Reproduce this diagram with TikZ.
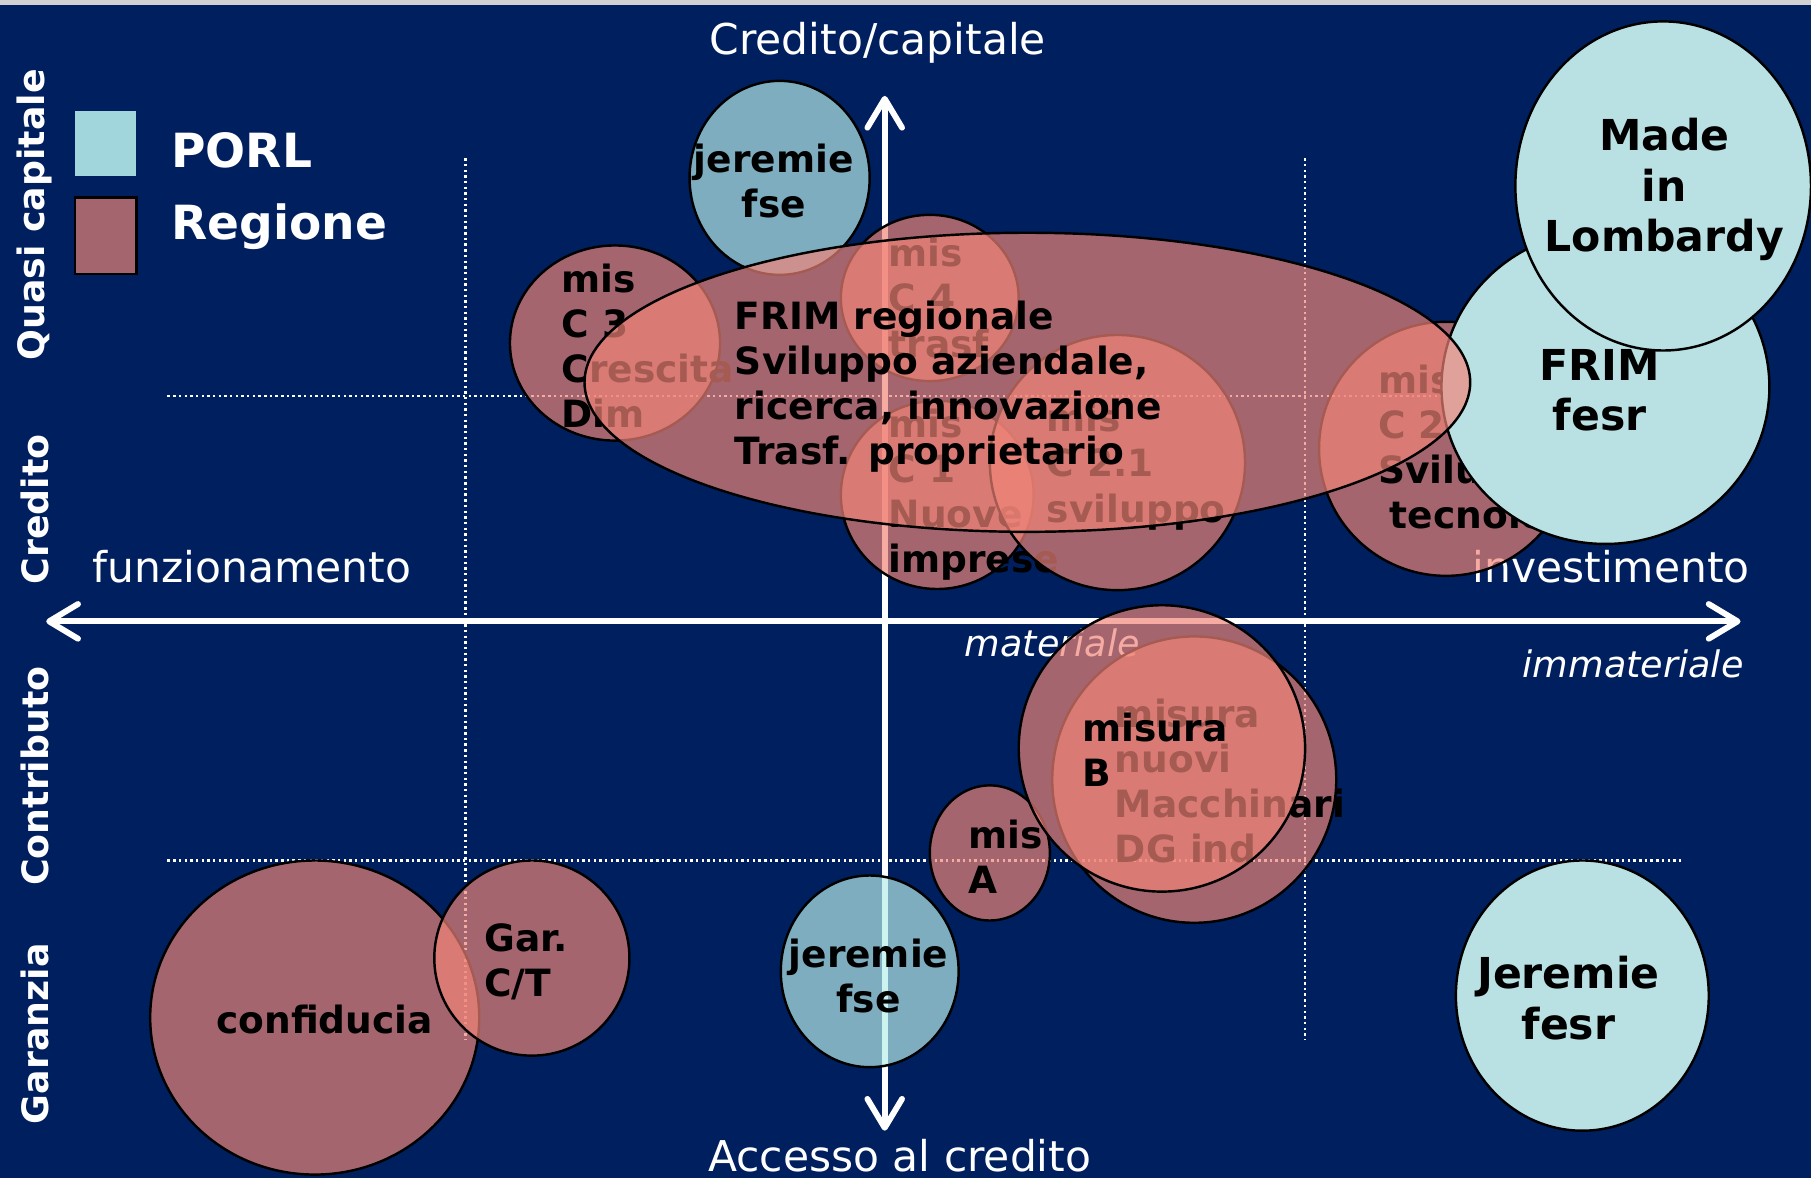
\documentclass[tikz,border=0pt]{standalone}
\usepackage{fontspec}
\setmainfont{DejaVu Sans}
\usetikzlibrary{shapes.geometric,arrows.meta}
\definecolor{navy}{RGB}{0,31,94}
\definecolor{salmon}{RGB}{241,133,120}
\definecolor{porlfill}{RGB}{185,224,227}
\definecolor{porlsoft}{RGB}{183,238,236}
\definecolor{porlkey}{RGB}{160,214,220}
\begin{document}
\begin{tikzpicture}[x=.02cm,y=-.02cm,
    reg/.style={ellipse, draw, line width=1.2pt, fill=salmon, fill opacity=.685, inner sep=0},
    porl/.style={ellipse, draw, line width=1.2pt, fill=porlfill, inner sep=0},
    porlt/.style={porl, fill=porlsoft, fill opacity=.685},
    lab/.style={font=\fontsize{18.5}{22.2}\selectfont\bfseries, align=left, anchor=west, inner sep=0},
    labc/.style={lab, align=center, anchor=center},
    big/.style={labc, font=\fontsize{21}{25}\selectfont\bfseries},
    axlab/.style={text=white, font=\fontsize{20.9}{25}\selectfont},
    axit/.style={text=white, font=\fontsize{18}{22}\selectfont\itshape},
    side/.style={text=white, rotate=90, font=\fontsize{17.9}{21}\selectfont\bfseries},
    keytxt/.style={text=white, anchor=west, inner sep=0, font=\fontsize{23.2}{28}\selectfont\bfseries},
    grid/.style={white, line width=1.2pt, dash pattern=on 1.2pt off 1.6pt},
    axis/.style={white, line width=2.9pt, >={Straight Barb[length=.5cm,width=.6cm,round]}, <->}]
    \fill[navy] (0,0) rectangle (1568,1020);
    \useasboundingbox (0,0) rectangle (1568,1020);
    \fill[gray!35] (0,0) rectangle (1568,4);
    % griglia
    \draw[grid] (145,343) -- (1455,343); \draw[grid] (145,745) -- (1455,745);
    \draw[grid] (403,137) -- (403,900); \draw[grid] (1130,137) -- (1130,900);
    % assi
    \coordinate (axl) at (40,538); \coordinate (axr) at (1507,538);
    \coordinate (axt) at (766,83); \coordinate (axb) at (766,979);
    \draw[axis] (axl) -- (axr); \draw[axis] (axt) -- (axb);
    \node (credcap) at (760,37) [axlab] {Credito/capitale};
    \node (accesso) at (779,1014) [axlab, anchor=base, inner sep=0] {Accesso al credito};
    \node (funz) at (218,491) [axlab] {funzionamento};
    \node (invest) at (1395,491) [axlab] {investimento};
    \node (mat) at (911,557) [axit] {materiale};
    \node (immat) at (1414,575) [axit] {immateriale};
    \node (qc) at (30,186) [side] {Quasi capitale};
    \node (cr) at (30,441) [side] {Credito};
    \node (co) at (30,672) [side] {Contributo};
    \node (ga) at (30,895) [side] {Garanzia};
    % legenda
    \node (porlbox) at (91.5,124) [fill=porlkey, minimum width=1.06cm,
    minimum height=1.12cm, inner sep=0] {};
    \node (regbox) at (91.5,204) [reg, rectangle, minimum width=1.06cm,
    minimum height=1.32cm] {};
    \node (porltxt) at (148,130) [keytxt] {PORL};
    \node (regtxt) at (148,196) [keytxt] {Regione};
    % bolle in alto
    \node (jft) at (675,154) [porlt, minimum width=3.12cm, minimum height=3.36cm] {};
    \node (jftt) at (670,157) [labc] {jeremie\\fse};
    \node (c3) at (532.5,297) [reg, minimum width=3.64cm, minimum height=3.38cm] {};
    \node (c3t) at (486,299) [lab] {mis\\C 3\\Crescita\\Dim};
    \node (c4) at (805,258) [reg, minimum width=3.08cm, minimum height=2.88cm] {};
    \node (c4t) at (769,258) [lab] {mis\\C 4\\trasf};
    \node (c1) at (811.5,428.5) [reg, minimum width=3.34cm, minimum height=3.26cm] {};
    \node (c1t) at (769,428.5) [lab] {mis\\C 1\\Nuove\\imprese};
    \node (c21) at (967.5,400.5) [reg, minimum size=4.42cm] {};
    \node (c21t) at (906,404) [lab] {mis\\C 2.1\\sviluppo};
    \node (c2) at (1252,388.6) [reg, minimum size=4.4cm] {};
    \node (c2t) at (1193,390) [lab] {mis\\C 2\\Sviluppo\\\hspace*{.2cm}tecnologico};
    \node (frimfesr) at (1390,335) [porl, minimum width=5.68cm, minimum height=5.44cm] {};
    \node (frimfesrt) at (1385,338) [big] {FRIM\\fesr};
    \node (frim) at (889.5,331) [reg, minimum width=15.34cm, minimum height=5.18cm] {};
    \node (frimt) at (636,334.5) [lab] {FRIM regionale\\Sviluppo aziendale,\\ricerca,
    innovazione\\Trasf. proprietario};
    \node (mil) at (1440,161) [porl, minimum width=5.12cm, minimum height=5.7cm] {};
    \node (milt) at (1441,164) [big] {Made\\in\\Lombardy};
    % bolle in basso
    \node (ma) at (857,738.5) [reg, minimum width=2.08cm, minimum height=2.34cm] {};
    \node (mat2) at (838,741.5) [lab] {mis\\A};
    \node (mn) at (1034,675) [reg, minimum width=4.92cm, minimum height=4.96cm] {};
    \node (mnt) at (965,676.5) [lab] {misura\\nuovi\\Macchinari\\DG ind};
    \node (mb) at (1006,648) [reg, minimum size=4.96cm] {};
    \node (mbt) at (937,649.5) [lab] {misura\\B};
    \node (conf) at (272.5,881) [reg, minimum width=5.7cm, minimum height=5.44cm] {};
    \node (conft) at (281,883) [labc] {confiducia};
    \node (gct) at (460.5,829.5) [reg, minimum size=3.38cm] {};
    \node (gctt) at (419,833) [lab] {Gar.\\C/T};
    \node (jfb) at (753,841) [porlt, minimum width=3.08cm, minimum height=3.32cm] {};
    \node (jfbt) at (752,845) [labc] {jeremie\\fse};
    \node (jfr) at (1370,862) [porl, minimum width=4.38cm, minimum height=4.68cm] {};
    \node (jfrt) at (1358,864) [big] {Jeremie\\fesr};
\end{tikzpicture}
\end{document}
